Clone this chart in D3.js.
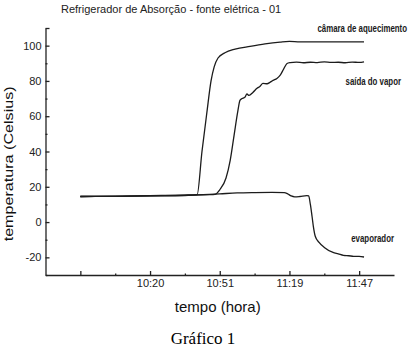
<!DOCTYPE html>
<html>
<head>
<meta charset="utf-8">
<script src="https://cdn.jsdelivr.net/npm/d3@7"></script>
<style>
    body { margin: 0; background: #fff; }
    svg { display: block; }
    .axis path, .axis line { stroke: #222; stroke-width: 1.3; }
    .axis text { font-family: "Liberation Sans", Arial, sans-serif; font-size: 11px; fill: #222; }
    .serie { fill: none; stroke: #1c1c1c; stroke-width: 1.3; stroke-linejoin: round; }
    .rotulo { font-family: "Liberation Sans", Arial, sans-serif; font-size: 10.5px; font-weight: bold; fill: #1a1a1a; }
</style>
</head>
<body>
<div id="chartContainer"></div>
<script>
/***** Dados (eixo x = leitura, eixo y = °C) */

const titulo = 'Refrigerador de Absorção - fonte elétrica - 01';
const rotuloX = 'tempo (hora)';
const rotuloY = 'temperatura (Celsius)';
const legenda = 'Gráfico 1';

const xTicks = [1, 2, 3, 4, 5, 6, 7, 8, 9];
const xTickLabels = ['', '', '10:20', '', '10:51', '', '11:19', '', '11:47'];
const yTicks = [-30, -20, -10, 0, 10, 20, 30, 40, 50, 60, 70, 80, 90, 100, 110];
const yTickLabels = [-20, 0, 20, 40, 60, 80, 100];

const camaraAquecimento = [
    [1, 14.5], [2, 14.7], [3, 15], [4, 15.3], [4.35, 15.5], [4.49, 40], [4.63, 62],
    [4.75, 80], [4.84, 88], [4.95, 93], [5.15, 96], [5.44, 98], [5.87, 99.6],
    [6.3, 101], [6.73, 102], [7.0, 102.4], [7.3, 102.1], [8.2, 102.1], [9.14, 102.1]
];

const saidaVapor = [
    [1, 14.5], [2, 14.6], [3, 14.9], [4, 15.2], [4.72, 15.5], [4.86, 15.7], [5.0, 18.3],
    [5.18, 25], [5.3, 35], [5.41, 49], [5.52, 63], [5.58, 69], [5.64, 70], [5.72, 70.7],
    [5.78, 72.6], [5.84, 71.8], [5.95, 73.5], [6.07, 75.8], [6.15, 76.9], [6.24, 78.6],
    [6.36, 78.4], [6.44, 79.2], [6.53, 80.3], [6.64, 81.4], [6.73, 83.1], [6.84, 87],
    [6.93, 89.9], [7.02, 90.4], [7.2, 90.7], [7.4, 90.3], [7.6, 90.6], [7.8, 90.4],
    [8.0, 90.8], [8.2, 90.5], [8.4, 90.6], [8.6, 90.3], [8.8, 90.7], [9.0, 90.5], [9.14, 90.8]
];

const evaporador = [
    [1, 14.5], [2, 14.6], [3, 14.8], [4, 15], [4.35, 15.4], [5, 16], [5.5, 16.5],
    [6, 16.7], [6.5, 16.8], [6.85, 16.7], [6.95, 16], [7.05, 14.8], [7.15, 14.3],
    [7.3, 14.5], [7.5, 15], [7.55, 14.8], [7.6, 10], [7.65, 3], [7.69, -3], [7.74, -8],
    [7.85, -11.5], [8.0, -14.4], [8.25, -17.2], [8.4, -18], [8.55, -18.9], [8.7, -19.1],
    [8.84, -19.4], [9.0, -19.5], [9.14, -19.8]
];

const series = [
    ['câmara de aquecimento', camaraAquecimento],
    ['saída do vapor', saidaVapor],
    ['evaporador', evaporador]
];

/***** Desenho */

function drawChart (containerId) {
    const width = 411;
    const height = 347;

    const svg = d3.select(`#${containerId}`).append('svg')
        .attr('width', width)
        .attr('height', height);

    const x = d3.scaleLinear().domain([0, 10]).range([45.5, 394]);
    const y = d3.scaleLinear().domain([-30, 110]).range([275, 28]);

    // eixo x: ticks para dentro, maiores nas leituras ímpares
    const xAxis = svg.append('g')
        .attr('class', 'axis')
        .attr('transform', `translate(0, ${y(-30)})`)
        .call(d3.axisBottom(x)
            .tickValues(xTicks)
            .tickSizeOuter(0)
            .tickSizeInner(-4)
            .tickPadding(4)
            .tickFormat((d, i) => xTickLabels[i]));
    xAxis.selectAll('.tick line')
        .attr('y2', d => d % 2 === 1 ? -4 : -1.5);

    // eixo y
    const yAxis = svg.append('g')
        .attr('class', 'axis')
        .attr('transform', `translate(${x(0)}, 0)`)
        .call(d3.axisLeft(y)
            .tickValues(yTicks)
            .tickSizeOuter(0)
            .tickSizeInner(-4)
            .tickPadding(4)
            .tickFormat(d => yTickLabels.includes(d) ? d : ''));
    yAxis.selectAll('.tick line')
        .attr('x2', d => yTickLabels.includes(d) || d === 110 ? 4 : 2);

    const line = d3.line()
        .x(d => x(d[0]))
        .y(d => y(d[1]))
        .curve(d3.curveMonotoneX);

    svg.selectAll('.serie')
        .data(series)
        .enter()
        .append('path')
        .attr('class', 'serie')
        .attr('d', s => line(s[1]));

    // rótulos das séries, ao lado do último ponto (fonte estreita: comprimida)
    const offsets = [[43, -10], [37, 23], [30, -15]];
    svg.selectAll('.rotulo')
        .data(series)
        .enter()
        .append('text')
        .attr('class', 'rotulo')
        .attr('text-anchor', 'end')
        .attr('transform', (s, i) => {
            const last = s[1][s[1].length - 1];
            return `translate(${x(last[0]) + offsets[i][0]}, ${y(last[1]) + offsets[i][1]}) scale(0.75, 1)`;
        })
        .text(s => s[0]);

    svg.append('text')
        .attr('x', 61)
        .attr('y', 13)
        .style('font-family', '"Liberation Sans", Arial, sans-serif')
        .style('font-size', '11px')
        .style('fill', '#222')
        .text(titulo);

    svg.append('text')
        .attr('text-anchor', 'middle')
        .attr('x', (x(0) + x(10)) / 2 - 2)
        .attr('y', 312)
        .style('font-family', '"Liberation Sans", Arial, sans-serif')
        .style('font-size', '15px')
        .style('fill', '#111')
        .text(rotuloX);

    svg.append('text')
        .attr('text-anchor', 'middle')
        .attr('transform', `translate(12.5, ${y(33)}) rotate(-90)`)
        .attr('textLength', 155)
        .attr('lengthAdjust', 'spacingAndGlyphs')
        .style('font-family', '"Liberation Sans", Arial, sans-serif')
        .style('font-size', '13.5px')
        .style('fill', '#111')
        .text(rotuloY);

    svg.append('text')
        .attr('text-anchor', 'middle')
        .attr('x', 203)
        .attr('y', 344)
        .style('font-family', '"Liberation Serif", "Times New Roman", serif')
        .style('font-size', '17px')
        .style('fill', '#000')
        .text(legenda);
}

drawChart('chartContainer');
</script>
</body>
</html>
